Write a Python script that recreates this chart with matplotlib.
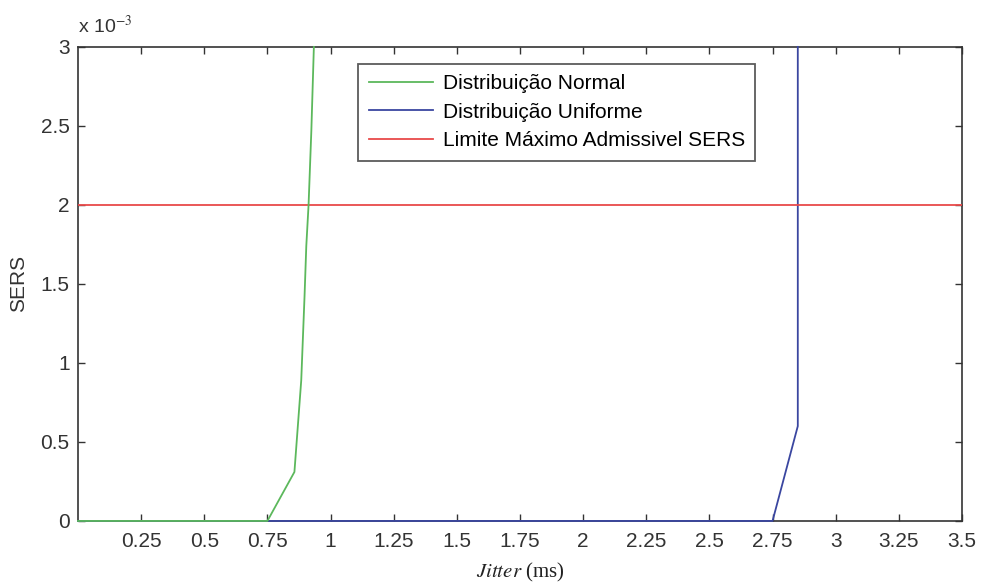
import numpy as np
import matplotlib.pyplot as plt

plt.rcParams['font.family'] = ['Liberation Sans', 'DejaVu Sans']
plt.rcParams['mathtext.fontset'] = 'stix'

# Jitter (ms) vs SERS
normal_x = [0.0, 0.75, 0.857, 0.884, 0.897, 0.904, 0.913, 0.924, 0.934]
normal_y = [0.0, 0.0, 0.31e-3, 0.89e-3, 1.42e-3, 1.74e-3, 2.0e-3, 2.47e-3, 3.0e-3]
uniform_x = [0.0, 2.75, 2.85, 2.85]
uniform_y = [0.0, 0.0, 0.6e-3, 3.0e-3]
limit_x = [0.0, 3.5]
limit_y = [2e-3, 2e-3]

xticks = [0.25, 0.5, 0.75, 1, 1.25, 1.5, 1.75, 2, 2.25, 2.5, 2.75, 3, 3.25, 3.5]
xticklabels = ['0.25', '0.5', '0.75', '1', '1.25', '1.5', '1.75', '2', '2.25',
               '2.5', '2.75', '3', '3.25', '3.5']
yticks = [0, 0.5e-3, 1e-3, 1.5e-3, 2e-3, 2.5e-3, 3e-3]
yticklabels = ['0', '0.5', '1', '1.5', '2', '2.5', '3']

fig = plt.figure(figsize=(9.82, 5.86), dpi=100)
ax = fig.add_axes([0.0794, 0.111, 0.9002, 0.809])

ax.plot(uniform_x, uniform_y, color='#3a46a0', lw=1.3, label='Distribuição Uniforme',
        zorder=3, clip_on=False)
ax.plot(normal_x, normal_y, color='#5cb85c', lw=1.3, label='Distribuição Normal',
        zorder=3.1, clip_on=False)
ax.plot(limit_x, limit_y, color='#e84a4a', lw=1.3, label='Limite Máximo Admissivel SERS',
        zorder=3)

ax.set_xlim(0, 3.5)
ax.set_ylim(0, 3e-3)
ax.set_xticks(xticks)
ax.set_xticklabels(xticklabels)
ax.set_yticks(yticks)
ax.set_yticklabels(yticklabels)
ax.tick_params(direction='in', top=True, right=True, length=5, width=1,
               labelsize=15, colors='#333333')
ax.tick_params(axis='x', pad=8)
ax.tick_params(axis='y', pad=6)
for s in ax.spines.values():
    s.set_color('#333333')
    s.set_linewidth(1.2)

ax.text(0.0, 1.02, r'x 10$^{-3}$', transform=ax.transAxes, fontsize=14,
        color='#333333', ha='left', va='bottom')

ax.set_ylabel('SERS', fontsize=15, color='#333333', labelpad=9)
ax.set_xlabel(r'$\mathit{Jitter}$ (ms)', fontsize=15, family='Liberation Serif',
              color='#222222', labelpad=7)

handles, labels = ax.get_legend_handles_labels()
order = [1, 0, 2]
leg = ax.legend([handles[i] for i in order], [labels[i] for i in order],
                loc='upper left', bbox_to_anchor=(0.317, 0.964), fontsize=15,
                frameon=True, fancybox=False, handlelength=3.1, handletextpad=0.45,
                borderpad=0.5, labelspacing=0.45, borderaxespad=0)
leg.get_frame().set_edgecolor('#333333')
leg.get_frame().set_linewidth(1.3)

fig.savefig('out.png', dpi=100)
